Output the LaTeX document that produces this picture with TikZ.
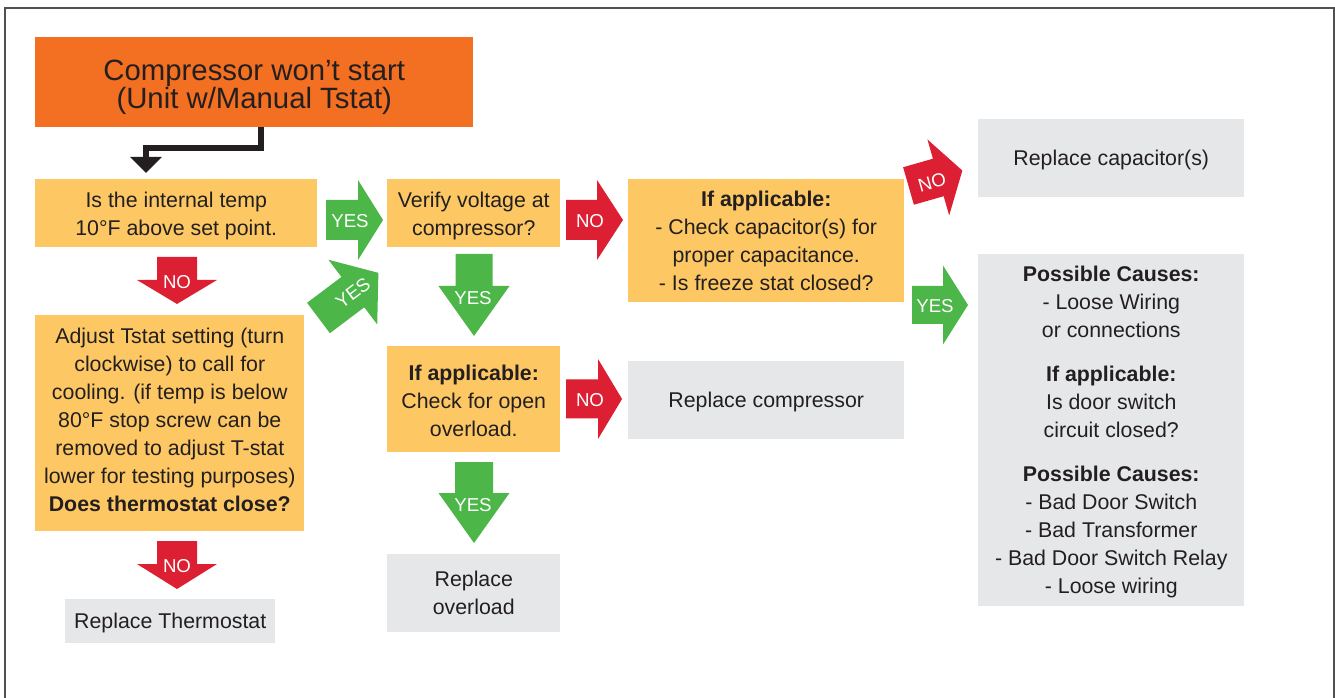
\documentclass[tikz,border=0pt]{standalone}
\usepackage{fontspec}
\setmainfont{Liberation Sans}
\usetikzlibrary{arrows.meta}
\definecolor{ttl}{HTML}{F36F21}
\definecolor{ylw}{HTML}{FDC863}
\definecolor{gry}{HTML}{E6E7E8}
\definecolor{grn}{HTML}{4CB748}
\definecolor{rd}{HTML}{DC1F32}
\definecolor{txt}{HTML}{231F20}
\definecolor{frm}{HTML}{505050}
\newcommand{\fatarrow}[7]{%
  \begin{scope}[shift={#1}, rotate=#2]
    \fill[#7] (0,-#4/2) -- (#3,-#4/2) -- (#3,-#6/2) -- (#3+#5,0) -- (#3,#6/2) -- (#3,#4/2) -- (0,#4/2) -- cycle;
  \end{scope}}
\newcommand{\upstrut}[1]{\rule{0pt}{#1}}
\newcommand{\dnstrut}[1]{\rule[-#1]{0pt}{#1}}
\tikzset{
  box/.style={anchor=north west, inner sep=0pt, align=center, text=txt,
    font=\fontsize{16pt}{21pt}\selectfont},
  ybox/.style={box, fill=ylw},
  gbox/.style={box, fill=gry},
  lbl/.style={text=white, inner sep=0pt, font=\fontsize{14pt}{16pt}\selectfont},
  conn/.style={draw=txt, line width=3.9pt, -{Triangle[length=12pt,width=23.25pt]}},
}
\begin{document}
\begin{tikzpicture}[x=0.75pt, y=-0.75pt]
\useasboundingbox (0,0) rectangle (1335,698);
\draw[frm, line width=1.3pt] (5,698) -- (5,8) -- (1334,8) -- (1334,698);

% boxes
\node[box, fill=ttl, minimum width=328.5pt, minimum height=67.5pt,
  font=\fontsize{22pt}{21pt}\selectfont] (title) at (35,37)
  {\upstrut{23.5pt}Compressor won’t start\\(Unit w/Manual Tstat)};
\node[ybox, minimum width=211.5pt, minimum height=51pt] (box1) at (35,179)
  {\upstrut{16pt}Is the internal temp\\10°F above set point.};
\node[ybox, minimum width=129.75pt, minimum height=51pt] (box2) at (387,179)
  {\upstrut{16pt}Verify voltage at\\compressor?};
\node[ybox, minimum width=207pt, minimum height=92.25pt] (box3) at (628,179)
  {\textbf{If applicable:}\\- Check capacitor(s) for\\proper capacitance.\\- Is freeze stat closed?};
\node[ybox, minimum width=129.75pt, minimum height=79.5pt] (box4) at (387,346)
  {\upstrut{14pt}\textbf{If applicable:}\\Check for open\\overload.};
\node[ybox, minimum width=201.75pt, minimum height=162pt] (box5) at (35,315)
  {Adjust Tstat setting (turn\\clockwise) to call for\\cooling. (if temp is below\\80°F stop screw can be\\removed to adjust T-stat\\lower for testing purposes)\\\textbf{Does thermostat close?}\dnstrut{4.5pt}};
\node[gbox, minimum width=157.5pt, minimum height=33pt, text depth=0pt] (rthermo) at (65,599)
  {Replace Thermostat};
\node[gbox, minimum width=129.75pt, minimum height=58.5pt] (roverload) at (387,554)
  {Replace\\overload};
\node[gbox, minimum width=207pt, minimum height=58.5pt, text depth=0pt] (rcomp) at (628,361)
  {Replace compressor};
\node[gbox, minimum width=199.5pt, minimum height=58.5pt, text depth=0pt] (rcap) at (978,119)
  {Replace capacitor(s)};
\node[gbox, minimum width=199.5pt, minimum height=264pt] (causes) at (978,254)
  {\upstrut{14pt}\textbf{Possible Causes:}\\- Loose Wiring\\or connections\\[12pt]\textbf{If applicable:}\\Is door switch\\circuit closed?\\[12pt]\textbf{Possible Causes:}\\- Bad Door Switch\\- Bad Transformer\\- Bad Door Switch Relay\\- Loose wiring};

% black elbow connector
\coordinate (c1) at (261,127);
\coordinate (c2) at (146,148);
\coordinate (c3) at (146,173);
\draw[conn] (c1) |- (c2) -- (c3);

% fat arrows
\fatarrow{(326,220)}{0}{32}{40}{25}{80}{grn}
\node[lbl] (yes1) at (350,221) {YES};
\fatarrow{(566,220)}{0}{31}{40}{26}{80}{rd}
\node[lbl] (no1) at (590,221) {NO};
\fatarrow{(474,254)}{-90}{32}{37}{50}{71}{grn}
\node[lbl] (yes2) at (473,298) {YES};
\fatarrow{(177,257)}{-90}{23}{40}{24}{80}{rd}
\node[lbl] (no2) at (177,282) {NO};
\fatarrow{(177,541)}{-90}{23}{40}{25}{80}{rd}
\node[lbl] (no3) at (177,566) {NO};
\fatarrow{(474,462)}{-90}{31}{38}{50}{71}{grn}
\node[lbl] (yes3) at (473,505) {YES};
\fatarrow{(566,399)}{0}{32}{39}{24}{80}{rd}
\node[lbl] (no4) at (590,400) {NO};
\fatarrow{(912,305)}{0}{31}{38}{25}{79}{grn}
\node[lbl] (yes4) at (935,306) {YES};
\fatarrow{(908.5,186)}{16}{31}{39}{25}{79}{rd}
\node[lbl, rotate=16] (no5) at (932,182) {NO};
\fatarrow{(318.5,318)}{37}{43}{38}{32}{81}{grn}
\node[lbl, rotate=37] (yes5) at (353,293) {YES};
\end{tikzpicture}
\end{document}
